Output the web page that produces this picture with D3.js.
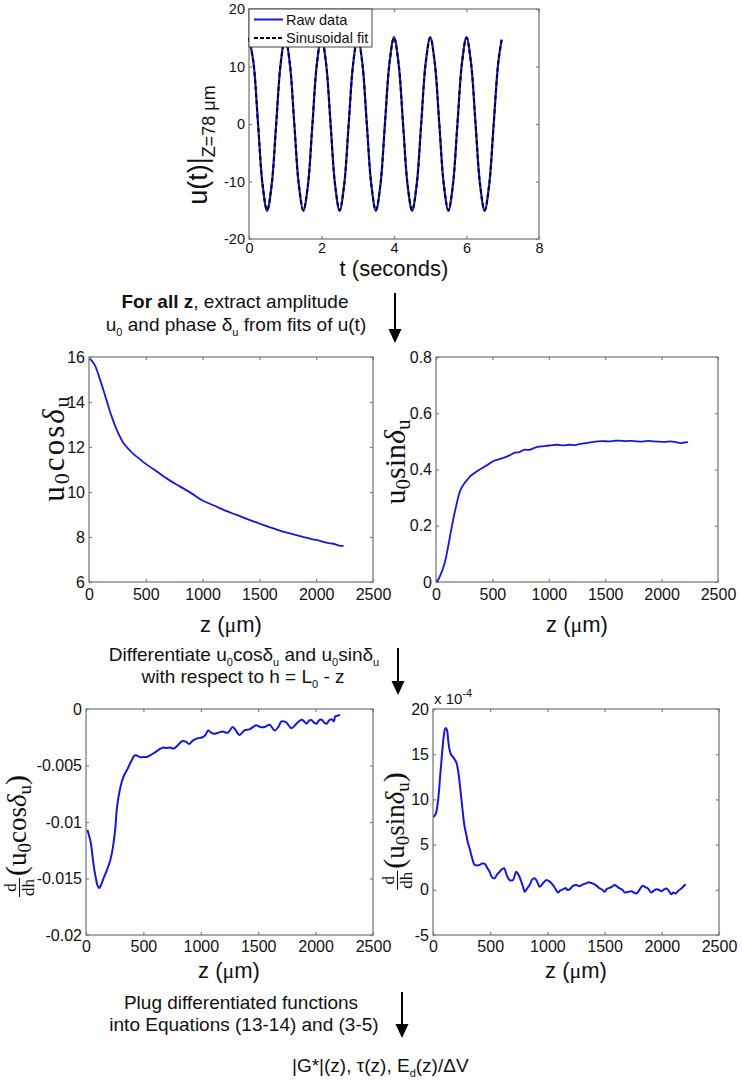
<!DOCTYPE html>
<html><head><meta charset="utf-8">
<script src="https://cdn.jsdelivr.net/npm/d3@7"></script>
<style>body{margin:0;background:#fff}svg{display:block}</style>
</head><body>
<svg id="c" width="742" height="1081"></svg>
<script>
// ---------- DATA ----------
const tSec = [0,0.125,0.25,0.375,0.5,0.625,0.75,0.875,1,1.125,1.25,1.375,1.5,1.625,1.75,1.875,2,2.125,2.25,2.375,2.5,2.625,2.75,2.875,3,3.125,3.25,3.375,3.5,3.625,3.75,3.875,4,4.125,4.25,4.375,4.5,4.625,4.75,4.875,5,5.125,5.25,5.375,5.5,5.625,5.75,5.875,6,6.125,6.25,6.375,6.5,6.625,6.75,6.875,6.97];
const uRaw = [15.0,10.6,0.0,-10.6,-15.1,-10.6,0.0,10.6,15.1,10.6,0.0,-10.6,-15.1,-10.7,0.0,10.6,15.1,10.6,0.1,-10.6,-15.1,-10.6,0.0,10.6,15.1,10.7,0.0,-10.6,-15.1,-10.6,0.0,10.6,15.1,10.6,0.0,-10.6,-15.1,-10.6,0.0,10.7,15.1,10.6,0.0,-10.6,-15.1,-10.6,0.0,10.6,15.1,10.6,0.0,-10.6,-15.1,-10.6,0.0,10.6,14.7];
const uFit = [15.0,10.6,0.0,-10.6,-15.0,-10.6,0.0,10.6,15.0,10.6,0.0,-10.6,-15.0,-10.6,0.0,10.6,15.0,10.6,0.0,-10.6,-15.0,-10.6,0.0,10.6,15.0,10.6,0.0,-10.6,-15.0,-10.6,0.0,10.6,15.0,10.6,0.0,-10.6,-15.0,-10.6,0.0,10.6,15.0,10.6,0.0,-10.6,-15.0,-10.6,0.0,10.6,15.0,10.6,0.0,-10.6,-15.0,-10.6,0.0,10.6,14.6];
const tTicks = [0,2,4,6,8];
const uTicks = [-20,-10,0,10,20];

const zCos = [10,50,100,150,200,250,300,350,400,450,500,600,700,800,900,1000,1100,1200,1300,1400,1500,1600,1700,1800,1900,2000,2100,2150,2200,2240];
const uCos = [15.92,15.65,14.95,14.15,13.35,12.7,12.2,11.9,11.65,11.45,11.25,10.9,10.55,10.25,9.95,9.62,9.4,9.17,8.98,8.78,8.6,8.42,8.25,8.12,7.98,7.87,7.74,7.7,7.62,7.6];
const cosTicks = [6,8,10,12,14,16];

const zSin = [10,40,75,100,130,170,215,250,275,300,335,380,425,470,510,560,610,660,700,740,780,830,880,930,980,1030,1080,1130,1180,1230,1280,1330,1380,1430,1480,1530,1580,1630,1680,1730,1780,1830,1880,1930,1980,2030,2080,2130,2170,2200,2235];
const uSin = [0.0,0.025,0.065,0.11,0.175,0.255,0.325,0.35,0.362,0.375,0.386,0.398,0.409,0.42,0.43,0.437,0.443,0.452,0.46,0.462,0.47,0.47,0.478,0.482,0.484,0.487,0.488,0.486,0.488,0.487,0.491,0.494,0.497,0.5,0.501,0.5,0.502,0.503,0.501,0.502,0.5,0.499,0.502,0.5,0.499,0.498,0.5,0.497,0.494,0.496,0.497];
const sinTicks = [0,0.2,0.4,0.6,0.8];

const zDcos = [12,41,60,79,100,114,130,152,180,211,235,254,269,290,313,335,357,380,400,415,430,450,474,500,532,560,591,620,650,678,700,730,766,800,839,870,898,930,971,1015,1040,1064,1090,1117,1150,1190,1234,1278,1305,1336,1360,1380,1424,1455,1482,1520,1556,1600,1643,1675,1702,1725,1746,1790,1833,1877,1900,1921,1945,1965,1987,2009,2030,2053,2075,2096,2118,2140,2160,2170,2190,2213];
const dCos = [-0.01068,-0.0118,-0.0133,-0.0146,-0.0156,-0.01585,-0.0156,-0.015,-0.0143,-0.0134,-0.0122,-0.0107,-0.0088,-0.0074,-0.0064,-0.0058,-0.0054,-0.0049,-0.0045,-0.0042,-0.0041,-0.00415,-0.00427,-0.00425,-0.00424,-0.0041,-0.0039,-0.0037,-0.0035,-0.0034,-0.00345,-0.0034,-0.0035,-0.0032,-0.00283,-0.0029,-0.0031,-0.0028,-0.0026,-0.0025,-0.0023,-0.0019,-0.0021,-0.0022,-0.0021,-0.002,-0.0021,-0.0016,-0.0019,-0.0023,-0.0021,-0.0019,-0.0018,-0.0016,-0.00144,-0.0016,-0.0016,-0.0014,-0.0019,-0.0016,-0.0011,-0.0011,-0.0012,-0.0017,-0.0013,-0.00095,-0.0011,-0.0013,-0.001,-0.001,-0.0012,-0.0013,-0.001,-0.00095,-0.0012,-0.0013,-0.001,-0.0009,-0.0011,-0.00065,-0.0006,-0.0005];
const dCosTicks = [-0.02,-0.015,-0.01,-0.005,0];

const zDsin = [6,23,44,64,80,93,105,111,122,133,146,160,175,190,204,215,227,245,262,276,291,305,320,340,364,385,408,430,452,475,495,515,539,560,583,600,621,645,670,699,715,728,750,772,788,801,820,845,865,889,910,932,960,991,1020,1049,1070,1093,1110,1136,1160,1175,1195,1220,1253,1280,1311,1335,1355,1385,1413,1435,1457,1480,1501,1520,1544,1565,1588,1610,1632,1655,1675,1700,1734,1755,1777,1800,1820,1836,1855,1879,1908,1930,1952,1975,1996,2020,2040,2060,2083,2100,2121,2145,2171,2190,2209];
const dSin = [8.06,8.36,9.85,12.8,15.2,16.9,17.8,17.9,17.7,16.5,15.4,14.9,14.7,14.4,14.1,13.5,12.5,10.4,8.4,7.0,6.1,5.2,4.6,3.6,2.76,2.7,2.76,2.9,2.87,2.4,2.0,1.4,1.27,1.7,2.0,2.25,2.39,1.6,1.08,1.08,1.6,2.0,1.6,0.9,0.3,-0.22,0.1,0.52,1.1,1.27,0.9,0.34,0.7,1.08,0.9,0.52,0.1,-0.3,-0.1,0.04,0.2,0.0,0.04,0.4,0.52,0.4,0.6,0.7,0.82,0.75,0.6,0.4,0.15,0.0,-0.22,0.1,0.22,0.35,0.52,0.35,0.15,0.0,-0.3,-0.25,-0.15,-0.3,-0.41,-0.1,0.3,0.45,0.3,0.15,-0.3,-0.1,0.07,0.0,-0.15,0.05,0.15,-0.1,-0.49,-0.3,-0.41,-0.1,0.15,0.4,0.6];
const dSinTicks = [-5,0,5,10,15,20];
const zTicks = [0,500,1000,1500,2000,2500];

// ---------- DRAWING ----------
const svg = d3.select('#c');
const SANS = '"Liberation Sans", Arial, sans-serif';
const SERIF = '"Liberation Serif", "Times New Roman", serif';
const BLUE = '#1717d9';
const AX = '#7d7d7d';

function panel(o){
  const x = d3.scaleLinear().domain(o.xd).range([o.x0,o.x1]);
  const y = d3.scaleLinear().domain(o.yd).range([o.y1,o.y0]);
  const g = svg.append('g');
  const ax = (axis, tr) => {
    const a = g.append('g').attr('transform',tr).call(axis);
    a.select('.domain').remove();
    a.selectAll('line').attr('stroke',AX).attr('stroke-width',1.2);
    a.selectAll('text').attr('fill','#111').style('font-size',o.fs+'px').style('font-family',SANS);
    return a;
  };
  ax(d3.axisBottom(x).tickValues(o.xt).tickSize(-3).tickSizeOuter(0).tickPadding(o.xpad).tickFormat(String), `translate(0,${o.y1})`);
  ax(d3.axisTop(x).tickValues(o.xt).tickSize(-3).tickSizeOuter(0).tickFormat(''), `translate(0,${o.y0})`);
  ax(d3.axisLeft(y).tickValues(o.yt).tickSize(-3).tickSizeOuter(0).tickPadding(o.ypad).tickFormat(String), `translate(${o.x0},0)`);
  ax(d3.axisRight(y).tickValues(o.yt).tickSize(-3).tickSizeOuter(0).tickFormat(''), `translate(${o.x1},0)`);
  g.append('rect').attr('x',o.x0).attr('y',o.y0).attr('width',o.x1-o.x0).attr('height',o.y1-o.y0)
    .attr('fill','none').attr('stroke',AX).attr('stroke-width',1.3);
  return {x,y,g};
}
function curve(p, xs, ys, color, w, dash){
  const line = d3.line().x(d=>p.x(d[0])).y(d=>p.y(d[1])).curve(d3.curveCatmullRom.alpha(0.5));
  p.g.append('path').attr('d', line(xs.map((v,i)=>[v,ys[i]])))
    .attr('fill','none').attr('stroke',color).attr('stroke-width',w)
    .attr('stroke-dasharray',dash||null).attr('stroke-linejoin','round');
}

// Top panel
const P0 = panel({x0:249,x1:539,y0:9,y1:239,xd:[0,8],yd:[-20,20],xt:tTicks,yt:uTicks,fs:14.5,xpad:4,ypad:4});
curve(P0, tSec, uRaw, BLUE, 2.2);
curve(P0, tSec, uFit, '#000', 2, '4,3');
// legend
const lg = svg.append('g');
lg.append('rect').attr('x',249).attr('y',9).attr('width',123).attr('height',38).attr('fill','#fff').attr('stroke','#444').attr('stroke-width',1);
lg.append('line').attr('x1',254).attr('x2',283).attr('y1',19.5).attr('y2',19.5).attr('stroke',BLUE).attr('stroke-width',2);
lg.append('line').attr('x1',254).attr('x2',283).attr('y1',38).attr('y2',38).attr('stroke','#000').attr('stroke-width',2).attr('stroke-dasharray','4,2');
lg.append('text').attr('x',286).attr('y',24.5).text('Raw data').style('font-family',SANS).style('font-size','14.5px').attr('fill','#111');
lg.append('text').attr('x',286).attr('y',43).text('Sinusoidal fit').style('font-family',SANS).style('font-size','14.5px').attr('fill','#111');
svg.append('text').attr('x',394).attr('y',276).attr('text-anchor','middle').style('font-family',SANS).style('font-size','22px').attr('fill','#111').text('t (seconds)');

function rotText(cx, cy, parts, fam, ls){
  const t = svg.append('text').attr('transform',`translate(${cx},${cy}) rotate(-90)`)
    .attr('text-anchor','middle').style('font-family',fam).attr('fill','#111')
    .style('letter-spacing', ls ? ls+'px' : null);
  parts.forEach(p=>{ t.append('tspan').style('font-size',p.fs+'px').attr('dy',p.dy||0)
    .style('font-style',p.it?'italic':null).style('font-family',p.fam||null).text(p.t); });
  return t;
}
rotText(207,145,[{t:'u(t)|',fs:27},{t:'Z=78 \u03bcm',fs:18,dy:8}],SANS);

// Middle panels
const P1 = panel({x0:89,x1:373,y0:357,y1:582,xd:[0,2500],yd:[6,16],xt:zTicks,yt:cosTicks,fs:16,xpad:7,ypad:4});
curve(P1, zCos, uCos, BLUE, 1.8);
const P2 = panel({x0:436,x1:718,y0:357,y1:582,xd:[0,2500],yd:[0,0.8],xt:zTicks,yt:sinTicks,fs:16,xpad:7,ypad:4});
curve(P2, zSin, uSin, BLUE, 1.8);

function zLabel(cx, y){
  const t = svg.append('text').attr('x',cx).attr('y',y).attr('text-anchor','middle').style('font-family',SANS).style('font-size','22px').attr('fill','#111');
  t.append('tspan').text('z (');
  t.append('tspan').style('font-family',SERIF).text('\u03bc');
  t.append('tspan').text('m)');
}
zLabel(231,632); zLabel(577,632);
rotText(64,448,[{t:'u',fs:31},{t:'0',fs:22,dy:5},{t:'cos',fs:31,dy:-5},{t:'\u03b4',fs:31,it:true},{t:'u',fs:22,dy:5}],SERIF,2);
rotText(405,462,[{t:'u',fs:30},{t:'0',fs:21,dy:5},{t:'sin',fs:30,dy:-5},{t:'\u03b4',fs:30,it:true},{t:'u',fs:21,dy:5}],SERIF);

// Bottom panels
const P3 = panel({x0:86,x1:373,y0:709,y1:935,xd:[0,2500],yd:[-0.02,0],xt:zTicks,yt:dCosTicks,fs:16,xpad:6,ypad:4});
curve(P3, zDcos, dCos, BLUE, 2);
const P4 = panel({x0:433,x1:719,y0:709,y1:935,xd:[0,2500],yd:[-5,20],xt:zTicks,yt:dSinTicks,fs:16,xpad:6,ypad:4});
curve(P4, zDsin, dSin, BLUE, 2);
zLabel(229,978); zLabel(576,978);
const ex = svg.append('text').attr('x',434).attr('y',704).style('font-family',SANS).style('font-size','15px').attr('fill','#111');
ex.append('tspan').text('x 10');
ex.append('tspan').style('font-size','11px').attr('dy',-7).text('-4');

function fracLabel(cx, cy, word){
  const g = svg.append('g').attr('transform',`translate(${cx},${cy}) rotate(-90)`).style('font-family',SERIF).attr('fill','#111');
  const ffs = 17;
  const num = g.append('text').style('font-size',ffs+'px').attr('text-anchor','middle').text('d');
  const den = g.append('text').style('font-size',ffs+'px').attr('text-anchor','middle').text('dh');
  const fw = Math.max(num.node().getComputedTextLength(), den.node().getComputedTextLength()) + 2;
  const m = g.append('text');
  const parts = [{t:'(',fs:30,dy:0},{t:'u',fs:27},{t:'0',fs:19,dy:5},{t:word,fs:27,dy:-5},{t:'\u03b4',fs:27,it:true},{t:'u',fs:19,dy:5},{t:')',fs:30,dy:-5}];
  parts.forEach(p=>{ m.append('tspan').style('font-size',p.fs+'px').attr('dy',p.dy||0).style('font-style',p.it?'italic':null).text(p.t); });
  const mw = m.node().getComputedTextLength();
  const total = fw + 2 + mw;
  const s = -total/2;
  num.attr('x', s+fw/2).attr('y',-10);
  den.attr('x', s+fw/2).attr('y',8);
  g.append('line').attr('x1',s).attr('x2',s+fw).attr('y1',-6.5).attr('y2',-6.5).attr('stroke','#111').attr('stroke-width',1.1);
  m.attr('x', s+fw+2).attr('y',0);
}
fracLabel(26,836,'cos');
fracLabel(404,831,'sin');

// annotations
function note(x, y, parts, anchor){
  const t = svg.append('text').attr('x',x).attr('y',y).attr('text-anchor',anchor||'middle').style('font-family',SANS).style('font-size','19px').attr('fill','#111');
  parts.forEach(p=>{
    const s = t.append('tspan').text(p.t);
    if(p.b) s.style('font-weight','bold');
    if(p.sub){ s.style('font-size','11px').attr('dy',5); }
    if(p.up){ s.attr('dy',-5); }
  });
}
note(235,308,[{t:'For all z',b:true},{t:', extract amplitude'}]);
note(236,331,[{t:'u'},{t:'0',sub:true},{t:' and phase \u03b4',up:true},{t:'u',sub:true},{t:' from fits of u(t)',up:true}]);
note(244,661,[{t:'Differentiate u'},{t:'0',sub:true},{t:'cos\u03b4',up:true},{t:'u',sub:true},{t:' and u',up:true},{t:'0',sub:true},{t:'sin\u03b4',up:true},{t:'u',sub:true}]);
note(243,683,[{t:'with respect to h = L'},{t:'0',sub:true},{t:' - z',up:true}]);
note(241,1009,[{t:'Plug differentiated functions'}]);
note(244,1031,[{t:'into Equations (13-14) and (3-5)'}]);
note(292,1072,[{t:'|G*|(z), \u03c4(z), E'},{t:'d',sub:true},{t:'(z)/\u0394V',up:true}],'start');

function arrow(x, y0, y1){
  svg.append('line').attr('x1',x).attr('x2',x).attr('y1',y0).attr('y2',y1-12).attr('stroke','#000').attr('stroke-width',2);
  svg.append('path').attr('d',`M${x-6.5},${y1-14}L${x+6.5},${y1-14}L${x},${y1}Z`).attr('fill','#000');
}
arrow(395,293,343);
arrow(398,648,695);
arrow(402,992,1038);
</script>
</body></html>
